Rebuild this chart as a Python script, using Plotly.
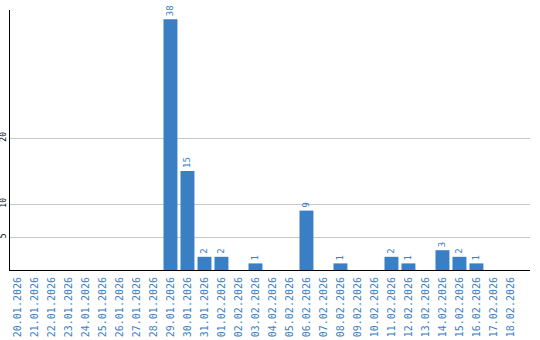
import plotly.graph_objects as go

dates = ["20.01.2026","21.01.2026","22.01.2026","23.01.2026","24.01.2026","25.01.2026",
         "26.01.2026","27.01.2026","28.01.2026","29.01.2026","30.01.2026","31.01.2026",
         "01.02.2026","02.02.2026","03.02.2026","04.02.2026","05.02.2026","06.02.2026",
         "07.02.2026","08.02.2026","09.02.2026","10.02.2026","11.02.2026","12.02.2026",
         "13.02.2026","14.02.2026","15.02.2026","16.02.2026","17.02.2026","18.02.2026"]
counts = [0,0,0,0,0,0,0,0,0,38,15,2,2,0,1,0,0,9,0,1,0,0,2,1,0,3,2,1,0,0]
ytickvals = [5, 10, 20]

blue = "#3a7ec4"
labels = [str(v) if v > 0 else "" for v in counts]

fig = go.Figure(go.Bar(
    x=list(range(len(dates))), y=counts, text=labels,
    textposition="outside", textangle=-90, cliponaxis=False,
    textfont=dict(family="DejaVu Sans Mono", size=9, color=blue),
    marker=dict(color=blue, line=dict(width=0)),
    width=0.82,
))
fig.update_layout(
    width=540, height=340, margin=dict(l=10, r=10, t=10, b=70),
    plot_bgcolor="white", paper_bgcolor="white", showlegend=False,
    uniformtext=dict(mode=False),
)
fig.update_xaxes(
    tickvals=list(range(len(dates))), ticktext=dates, tickangle=-90,
    range=[-0.44, 30.15], showline=True, linecolor="black", linewidth=1,
    showgrid=False, ticks="", zeroline=False, automargin=False, ticklabelstandoff=2,
    tickfont=dict(family="DejaVu Sans Mono", size=10, color=blue),
)
fig.update_yaxes(
    tickvals=ytickvals, range=[0, 39.4], tickangle=-90,
    showline=True, linecolor="black", linewidth=1, automargin=False,
    showgrid=True, gridcolor="#c8c8c8", gridwidth=1, zeroline=False, ticks="",
    ticklabelstandoff=0,
    tickfont=dict(family="DejaVu Sans Mono", size=8, color="black"),
)
fig.write_html("out.html")
